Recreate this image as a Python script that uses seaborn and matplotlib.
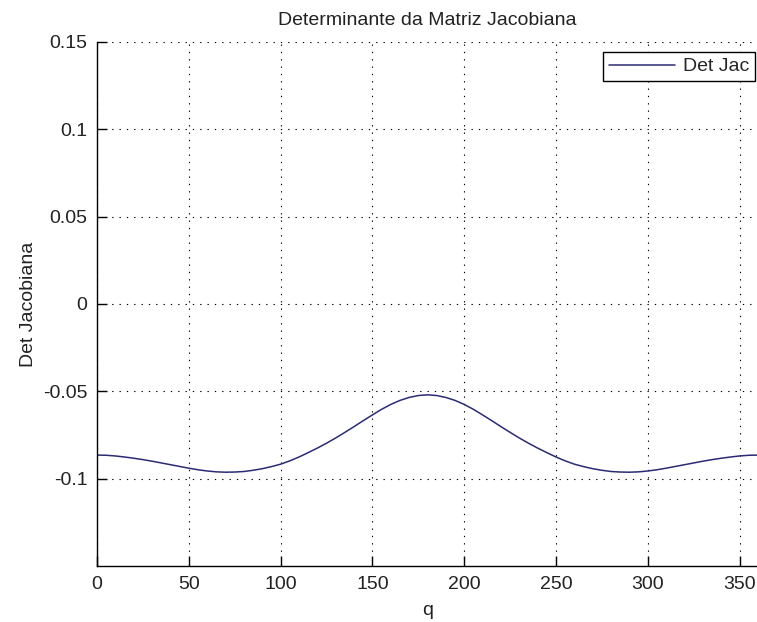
import matplotlib
matplotlib.use("Agg")
import matplotlib.pyplot as plt
import seaborn as sns
import pandas as pd

# Joint angle q (degrees) and the Jacobian determinant at each angle
q_deg = list(range(0, 365, 5))
det_jac = [
    -0.0865, -0.0866, -0.0870, -0.0876, -0.0883, -0.0891, -0.0900, -0.0910,
    -0.0920, -0.0930, -0.0940, -0.0949, -0.0956, -0.0961, -0.0963, -0.0962,
    -0.0959, -0.0952, -0.0943, -0.0931, -0.0917, -0.0898, -0.0876, -0.0851,
    -0.0825, -0.0797, -0.0767, -0.0735, -0.0702, -0.0668, -0.0635, -0.0603,
    -0.0575, -0.0552, -0.0535, -0.0524, -0.0520,
    -0.0524, -0.0535, -0.0552, -0.0575, -0.0603, -0.0635, -0.0668, -0.0702,
    -0.0735, -0.0767, -0.0797, -0.0825, -0.0851, -0.0876, -0.0898, -0.0917,
    -0.0931, -0.0943, -0.0952, -0.0959, -0.0962, -0.0963, -0.0961, -0.0956,
    -0.0949, -0.0940, -0.0930, -0.0920, -0.0910, -0.0900, -0.0891, -0.0883,
    -0.0876, -0.0870, -0.0866, -0.0865,
]
x_ticks = [0, 50, 100, 150, 200, 250, 300, 350]
y_ticks = [-0.1, -0.05, 0, 0.05, 0.1, 0.15]
y_tick_labels = ["-0.1", "-0.05", "0", "0.05", "0.1", "0.15"]

df = pd.DataFrame({"q": q_deg, "det": det_jac})

sns.set_theme(style="white")
plt.rcParams["font.family"] = ["Liberation Sans", "DejaVu Sans"]
plt.rcParams["font.size"] = 14

fig = plt.figure(figsize=(7.57, 6.22), dpi=100)
ax = fig.add_axes([97 / 757, 56 / 622, 661 / 757, 524 / 622])

sns.lineplot(data=df, x="q", y="det", ax=ax, color="#2b2b75", linewidth=1.1,
             label="Det Jac")

ax.set_xlim(0, 360)
ax.set_ylim(-0.15, 0.15)
ax.set_xticks(x_ticks)
ax.set_xticklabels([str(t) for t in x_ticks])
ax.set_yticks(y_ticks)
ax.set_yticklabels(y_tick_labels)

ax.grid(True, color="black", linewidth=0.8, linestyle=(0, (1.2, 5.4)))
ax.set_axisbelow(True)

for side in ("top", "right"):
    ax.spines[side].set_visible(False)
for side in ("left", "bottom"):
    ax.spines[side].set_color("black")
    ax.spines[side].set_linewidth(1.0)

ax.tick_params(axis="both", direction="in", length=7, width=1.0,
               color="black", labelsize=14, pad=7, labelcolor="#222222")
ax.tick_params(axis="x", bottom=True)
ax.tick_params(axis="y", left=True)

ax.set_title("Determinante da Matriz Jacobiana", fontsize=14, color="#222222", pad=12)
ax.set_xlabel("q", fontsize=14, color="#222222", labelpad=7)
ax.set_ylabel("Det Jacobiana", fontsize=14, color="#222222", labelpad=4)

leg = ax.legend(loc="upper right", bbox_to_anchor=(0.9955, 0.981),
                fontsize=14, frameon=True, fancybox=False, shadow=False,
                borderaxespad=0, handlelength=3.4, borderpad=0.3,
                handletextpad=0.4)
leg.get_frame().set_edgecolor("black")
leg.get_frame().set_linewidth(1.0)
leg.get_frame().set_facecolor("white")
leg.get_frame().set_alpha(1.0)

fig.savefig("out.png", dpi=100)
